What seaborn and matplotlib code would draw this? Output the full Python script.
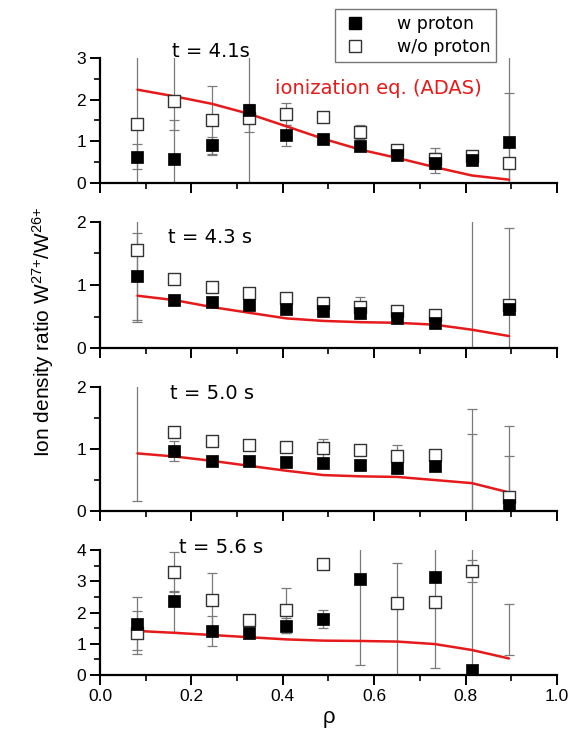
import numpy as np
import pandas as pd
import matplotlib
matplotlib.use("Agg")
import matplotlib.pyplot as plt
from matplotlib.lines import Line2D
from matplotlib.ticker import MultipleLocator
import seaborn as sns

nan = np.nan
rho = [0.082, 0.163, 0.245, 0.326, 0.408, 0.489, 0.570, 0.651, 0.733, 0.814, 0.895]

times = ["t = 4.1s", "t = 4.3 s", "t = 5.0 s", "t = 5.6 s"]
ylims = [3, 2, 2, 4]

# w proton (filled squares)
w_41 = [0.62, 0.58, 0.90, 1.74, 1.14, 1.05, 0.88, 0.67, 0.48, 0.56, 0.98]
w_43 = [1.15, 0.76, 0.73, 0.69, 0.62, 0.59, 0.56, 0.47, 0.40, nan, 0.62]
w_50 = [nan, 0.97, 0.80, 0.80, 0.79, 0.77, 0.75, 0.70, 0.73, nan, 0.10]
w_56 = [1.63, 2.38, 1.42, 1.35, 1.57, 1.78, 3.06, nan, 3.13, 0.16, nan]
w_lo_41 = [0.34, -1.0, 0.70, -1.0, 0.88, 0.98, 0.80, 0.62, 0.24, 0.52, -0.20]
w_hi_41 = [0.93, 1.50, 1.10, 3.50, 1.40, 1.12, 0.96, 0.72, 0.72, 0.62, 2.15]
w_lo_43 = [0.45, 0.72, 0.70, 0.65, 0.58, 0.55, 0.48, 0.43, 0.33, -1.0, -0.66]
w_hi_43 = [1.82, 0.80, 0.76, 0.73, 0.66, 0.63, 0.64, 0.51, 0.47, 3.0, 1.90]
w_lo_50 = [0.16, 0.81, 0.74, 0.76, 0.75, 0.73, 0.70, 0.62, 0.69, -2.6, -0.50]
w_hi_50 = [3.0, 1.13, 0.86, 0.84, 0.83, 0.81, 0.80, 0.78, 0.77, 1.65, 0.88]
w_lo_56 = [0.80, 1.38, 0.94, 1.20, 1.33, 1.49, 0.31, nan, 0.21, -2.0, 0.64]
w_hi_56 = [2.49, 2.67, 1.88, 1.50, 1.81, 2.08, 5.80, nan, 6.00, 6.00, 2.27]

# w/o proton (open squares)
o_41 = [1.42, 1.98, 1.50, 1.56, 1.66, 1.58, 1.22, 0.80, 0.58, 0.64, 0.48]
o_43 = [1.56, 1.10, 0.97, 0.88, 0.79, 0.72, 0.65, 0.59, 0.53, nan, 0.68]
o_50 = [nan, 1.28, 1.13, 1.07, 1.03, 1.01, 0.99, 0.88, 0.91, nan, 0.23]
o_56 = [1.33, 3.31, 2.40, 1.76, 2.08, 3.55, nan, 2.31, 2.33, 3.33, nan]
o_lo_41 = [-0.5, 1.27, 0.67, 1.23, 1.40, 1.50, 1.06, 0.74, 0.33, 0.60, -2.0]
o_hi_41 = [3.5, 3.50, 2.33, 1.89, 1.93, 1.66, 1.38, 0.86, 0.84, 0.68, 3.5]
o_lo_43 = [0.41, 1.06, 0.92, 0.83, 0.75, 0.68, 0.50, 0.55, 0.49, nan, 0.64]
o_hi_43 = [2.71, 1.14, 1.02, 0.93, 0.83, 0.76, 0.81, 0.63, 0.57, nan, 0.72]
o_lo_50 = [nan, 1.24, 1.06, 1.03, 0.99, 0.86, 0.95, 0.70, 0.87, -0.30, -0.92]
o_hi_50 = [nan, 1.32, 1.20, 1.11, 1.07, 1.16, 1.03, 1.06, 0.95, 1.25, 1.38]
o_lo_56 = [0.66, 2.69, 1.55, 1.60, 1.36, 3.45, nan, -1.0, 2.20, 2.98, nan]
o_hi_56 = [2.06, 3.93, 3.25, 1.92, 2.80, 3.65, nan, 3.60, 2.46, 3.68, nan]

# ionization equilibrium (ADAS)
adas_41 = [2.24, 2.08, 1.90, 1.66, 1.36, 1.06, 0.80, 0.60, 0.38, 0.18, 0.08]
adas_43 = [0.83, 0.76, 0.65, 0.56, 0.47, 0.43, 0.41, 0.40, 0.37, 0.29, 0.19]
adas_50 = [0.93, 0.88, 0.81, 0.73, 0.65, 0.58, 0.56, 0.55, 0.50, 0.45, 0.30]
adas_56 = [1.41, 1.35, 1.28, 1.21, 1.14, 1.10, 1.09, 1.07, 0.99, 0.80, 0.53]

panels = [
    (w_41, w_lo_41, w_hi_41, o_41, o_lo_41, o_hi_41, adas_41),
    (w_43, w_lo_43, w_hi_43, o_43, o_lo_43, o_hi_43, adas_43),
    (w_50, w_lo_50, w_hi_50, o_50, o_lo_50, o_hi_50, adas_50),
    (w_56, w_lo_56, w_hi_56, o_56, o_lo_56, o_hi_56, adas_56),
]

sns.set_theme(style="ticks")
plt.rcParams['font.family'] = ['Liberation Sans', 'DejaVu Sans']
plt.rcParams['mathtext.fontset'] = 'custom'
plt.rcParams['mathtext.rm'] = 'Liberation Sans'
plt.rcParams['mathtext.it'] = 'Liberation Sans'
plt.rcParams['text.color'] = 'black'
plt.rcParams['axes.labelcolor'] = 'black'
plt.rcParams['xtick.color'] = 'black'
plt.rcParams['ytick.color'] = 'black'

fig = plt.figure(figsize=(5.8, 7.37), dpi=100)
boxes = [(0.7517, 0.1696), (0.5278, 0.1710), (0.3066, 0.1682), (0.0841, 0.1696)]
text_pos = [(0.243, 1.05), (0.240, 0.88), (0.246, 0.95), (0.266, 1.02)]
left, width = 0.1724, 0.7879
ecol = '#7a7a7a'
wide = ['DejaVu Sans']

for i, (pan, (b, h)) in enumerate(zip(panels, boxes)):
    w, wlo, whi, o, olo, ohi, adas = pan
    ax = fig.add_axes([left, b, width, h])
    df = pd.DataFrame({"rho": rho, "w": w, "wlo": wlo, "whi": whi,
                       "o": o, "olo": olo, "ohi": ohi, "adas": adas})
    for lo, hi in [("wlo", "whi"), ("olo", "ohi")]:
        sub = df.dropna(subset=[lo, hi])
        mid = (sub[lo] + sub[hi]) / 2
        half = (sub[hi] - sub[lo]) / 2
        ax.errorbar(sub["rho"], mid, yerr=half, fmt='none', ecolor=ecol,
                    elinewidth=0.9, capsize=3.5, capthick=0.9, zorder=1)
    sns.lineplot(data=df, x="rho", y="adas", ax=ax, color='#e61a1a', lw=1.8,
                 zorder=2, legend=False)
    sns.scatterplot(data=df, x="rho", y="o", ax=ax, marker='s', s=64,
                    facecolor='white', edgecolor='#333333', linewidth=1.0, zorder=3)
    sns.scatterplot(data=df, x="rho", y="w", ax=ax, marker='s', s=72,
                    color='black', edgecolor='black', linewidth=0.5, zorder=4)
    ax.set_xlim(0, 1.0)
    ax.set_ylim(0, ylims[i])
    ax.xaxis.set_major_locator(MultipleLocator(0.2))
    ax.xaxis.set_minor_locator(MultipleLocator(0.1))
    ax.yaxis.set_major_locator(MultipleLocator(1))
    ax.yaxis.set_minor_locator(MultipleLocator(0.5))
    ax.tick_params(which='major', direction='out', length=7, width=1.4,
                   labelsize=12.5, colors='black', pad=3)
    ax.tick_params(which='minor', direction='out', length=4, width=1.2,
                   colors='black')
    for s in ['top', 'right']:
        ax.spines[s].set_visible(False)
    for s in ['left', 'bottom']:
        ax.spines[s].set_linewidth(1.6)
        ax.spines[s].set_color('black')
    ax.set_ylabel('')
    ax.set_xlabel('')
    if i < 3:
        ax.set_xticklabels([])
    else:
        ax.set_xticklabels([f"{v:.1f}" for v in ax.get_xticks()])
        ax.set_xlabel('ρ', fontsize=16, labelpad=2, color='black')
    ax.set_yticklabels([f"{int(v)}" for v in ax.get_yticks()])
    ax.text(text_pos[i][0], text_pos[i][1], times[i], transform=ax.transAxes,
            ha='center', va='center', fontsize=14, family=wide, color='black',
            clip_on=False)
    ax.patch.set_alpha(0)
    if i == 0:
        ax.text(0.61, 0.76, 'ionization eq. (ADAS)', transform=ax.transAxes,
                ha='center', va='center', fontsize=14, family=wide,
                color='#e61a1a')

handles = [
    Line2D([], [], marker='s', ls='none', color='black', markersize=8.5),
    Line2D([], [], marker='s', ls='none', markerfacecolor='white',
           markeredgecolor='#333333', markersize=8),
]
leg = fig.legend(handles, ['w proton', 'w/o proton'], loc='upper left',
                 bbox_to_anchor=(335 / 580, 1 - 9 / 737),
                 prop={'family': wide, 'size': 12.5},
                 frameon=True, fancybox=False, edgecolor='#555555',
                 handletextpad=1.6, borderpad=0.35, labelspacing=0.3,
                 handlelength=1.6, borderaxespad=0)
leg.get_frame().set_linewidth(1.0)
for t in leg.get_texts():
    t.set_color('black')

fig.text(0.074, 0.5495, 'Ion density ratio W$^{27{+}}$/W$^{26{+}}$', rotation=90,
         ha='center', va='center', fontsize=15, color='black')

fig.savefig('out.png', dpi=100)
